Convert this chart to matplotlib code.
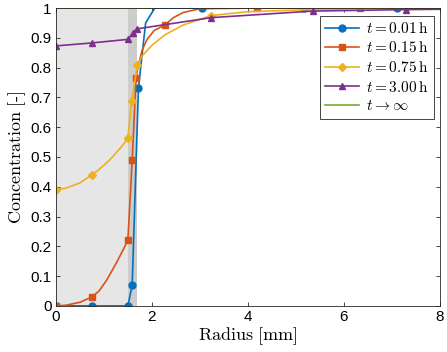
import matplotlib
matplotlib.use('Agg')
import matplotlib.pyplot as plt

# radial concentration profiles (r in mm, c dimensionless)
r_001 = [0, 0.75, 1.5, 1.59, 1.72, 1.78, 1.87, 2.06, 3.04, 5.17, 7.1, 8]
c_001 = [0, 0, 0, 0.07, 0.73, 0.82, 0.95, 1.0, 1.0, 1.0, 1.0, 1.0]
m_001 = [0, 1, 2, 3, 4, 8, 9, 10]

r_015 = [0, 0.2, 0.5, 0.75, 0.9, 1.06, 1.26, 1.4, 1.5, 1.59, 1.67, 1.72, 1.8,
         1.9, 2.05, 2.27, 2.45, 2.65, 3.0, 4.19, 6.33, 8]
c_015 = [0, 0.002, 0.012, 0.03, 0.05, 0.087, 0.144, 0.188, 0.22, 0.49, 0.765, 0.81, 0.86,
         0.895, 0.925, 0.943, 0.968, 0.985, 0.998, 1.0, 1.0, 1.0]
m_015 = [0, 3, 8, 9, 10, 15, 19, 20]

r_075 = [0, 0.2, 0.5, 0.75, 0.9, 1.12, 1.3, 1.42, 1.5, 1.58, 1.7, 1.8, 2.0, 2.27,
         2.65, 3.24, 4.0, 5.35, 7.3, 8]
c_075 = [0.39, 0.395, 0.413, 0.44, 0.458, 0.49, 0.522, 0.545, 0.565, 0.688, 0.81, 0.84,
         0.875, 0.91, 0.943, 0.975, 0.988, 0.995, 1.0, 1.0]
m_075 = [0, 3, 8, 9, 10, 15, 17, 18]

r_300 = [0, 0.75, 1.5, 1.6, 1.68, 3.24, 5.35, 7.3, 8]
c_300 = [0.873, 0.883, 0.895, 0.915, 0.93, 0.968, 0.99, 0.995, 0.996]
m_300 = [0, 1, 2, 3, 4, 5, 6, 7]

r_inf = [0, 8]
c_inf = [1, 1]

plt.rcParams['mathtext.fontset'] = 'cm'
plt.rcParams['font.family'] = 'Liberation Sans'

fig = plt.figure(figsize=(4.47, 3.52), dpi=100)
ax = fig.add_axes([0.125, 0.131, 0.859, 0.846])

ax.axvspan(0, 1.5, facecolor='#e6e6e6', edgecolor='none', zorder=0)
ax.axvspan(1.5, 1.7, facecolor='#cdcdcd', edgecolor='none', zorder=0)

ax.plot(r_001, c_001, '-o', color='#0072BD', lw=1.2, ms=5, markevery=m_001,
        label=r'$t = 0.01\,\mathrm{h}$')
ax.plot(r_015, c_015, '-s', color='#D95319', lw=1.2, ms=4.5, markevery=m_015,
        label=r'$t = 0.15\,\mathrm{h}$')
ax.plot(r_075, c_075, '-D', color='#EDB120', lw=1.2, ms=4, markevery=m_075,
        label=r'$t = 0.75\,\mathrm{h}$')
ax.plot(r_300, c_300, '-^', color='#7E2F8E', lw=1.2, ms=5, markevery=m_300,
        label=r'$t = 3.00\,\mathrm{h}$')
ax.plot(r_inf, c_inf, '-', color='#77AC30', lw=1.2, zorder=1.9,
        label=r'$t \rightarrow \infty$')

ax.set_xlim(0, 8)
ax.set_ylim(0, 1)
ax.set_xticks([0, 2, 4, 6, 8])
ax.set_yticks([i / 10 for i in range(11)])
ax.set_yticklabels(['0', '0.1', '0.2', '0.3', '0.4', '0.5', '0.6', '0.7', '0.8', '0.9', '1'])
ax.tick_params(direction='in', top=True, right=True, labelsize=11, length=3,
               color='#262626', width=0.6, pad=3)
for s in ax.spines.values():
    s.set_linewidth(0.6)
    s.set_color('#262626')

ax.set_xlabel(r'$\mathrm{Radius\ [mm]}$', fontsize=13, labelpad=1)
ax.set_ylabel(r'$\mathrm{Concentration\ [\text{-}]}$', fontsize=13, labelpad=2)

leg = ax.legend(loc='upper right', bbox_to_anchor=(0.985, 0.975), fontsize=11,
                fancybox=False, framealpha=1, edgecolor='#262626',
                borderpad=0.35, labelspacing=0.3, handlelength=2.2,
                handletextpad=0.5, borderaxespad=0)
leg.get_frame().set_linewidth(0.6)

fig.savefig('out.png', dpi=100)
